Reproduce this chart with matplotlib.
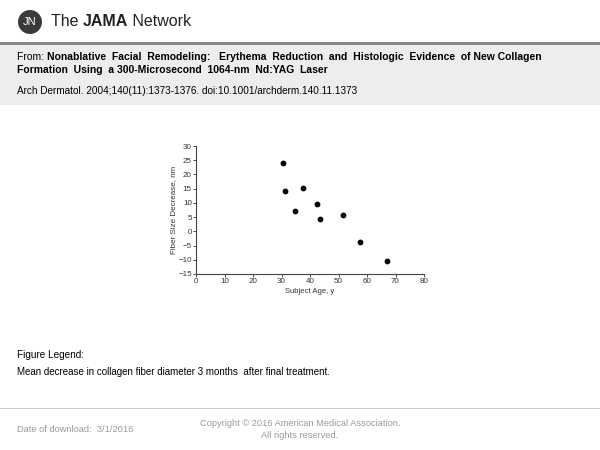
import matplotlib.pyplot as plt
from matplotlib.patches import Ellipse, Rectangle

plt.rcParams["font.family"] = ["Liberation Sans Narrow", "Liberation Sans", "DejaVu Sans"]

# データ
age = [30.5, 31.4, 34.6, 37.4, 42.6, 43.6, 51.6, 57.5, 66.9]
decrease = [24.0, 14.2, 7.3, 15.3, 9.7, 4.3, 5.8, -3.8, -10.4]
xticks = [0, 10, 20, 30, 40, 50, 60, 70, 80]
yticks = [-15, -10, -5, 0, 5, 10, 15, 20, 25, 30]

fig = plt.figure(figsize=(6, 4.5), dpi=100)
W, H = 600, 450
hdr = ["Liberation Sans", "DejaVu Sans"]
renderer = fig.canvas.get_renderer()

def fy(py):
    return 1 - py / H

# 複数のテキストを横に並べる
def rowtext(x, y, parts, **kw):
    for s, weight in parts:
        t = fig.text(x / W, fy(y), s, va="center", fontweight=weight, family=hdr, **kw)
        x += t.get_window_extent(renderer).width

# ヘッダー
fig.patches.append(Rectangle((0, fy(105)), 1, fy(43) - fy(105), transform=fig.transFigure,
                             facecolor="#ededed", edgecolor="none"))
fig.patches.append(Rectangle((0, fy(45)), 1, 3 / H, transform=fig.transFigure,
                             facecolor="#8a8a8a", edgecolor="none"))
fig.patches.append(Ellipse((30 / W, fy(22)), 24 / W, 24 / H, transform=fig.transFigure,
                           facecolor="#3a3a3a", edgecolor="none"))
fig.text(30 / W, fy(22), "JN", color="white", fontsize=8, ha="center", va="center", family=hdr)
rowtext(51, 21, [("The ", "normal"), ("JAMA", "bold"), (" Network", "normal")],
        fontsize=11.5, color="#222222")

rowtext(17, 57, [("From: ", "normal"),
                 ("Nonablative  Facial  Remodeling:   Erythema  Reduction  and  Histologic  Evidence  of New Collagen", "bold")],
        fontsize=7.5)
rowtext(17, 70, [("Formation  Using  a 300-Microsecond  1064-nm  Nd:YAG  Laser", "bold")], fontsize=7.5)
rowtext(17, 91, [("Arch Dermatol. 2004;140(11):1373-1376. doi:10.1001/archderm.140.11.1373", "normal")],
        fontsize=7.2)

# 散布図
ax = fig.add_axes([196 / W, fy(274), (424 - 196) / W, (274 - 146) / H])
ax.scatter(age, decrease, s=10, color="black", zorder=3)
ax.set_xlim(0, 80)
ax.set_ylim(-15, 30)
ax.set_xticks(xticks)
ax.set_yticks(yticks)
ax.spines["top"].set_visible(False)
ax.spines["right"].set_visible(False)
ax.spines["left"].set_color("#444444")
ax.spines["bottom"].set_color("#444444")
ax.tick_params(labelsize=5.8, length=2, width=0.6, pad=1, colors="#333333")
ax.set_xlabel("Subject Age, y", fontsize=5.5, labelpad=2, color="#333333")
ax.set_ylabel("Fiber Size Decrease, nm", fontsize=5.8, labelpad=1, color="#333333")

# 凡例・フッター
rowtext(17, 355, [("Figure Legend:", "normal")], fontsize=7.2)
rowtext(17, 372, [("Mean decrease in collagen fiber diameter 3 months  after final treatment.", "normal")],
        fontsize=7.0)
fig.patches.append(Rectangle((0, fy(409)), 1, 1 / H, transform=fig.transFigure,
                             facecolor="#cccccc", edgecolor="none"))
rowtext(17, 429, [("Date of download:  3/1/2016", "normal")], fontsize=6.7, color="#9a9a9a")
fig.text(300 / W, fy(424), "Copyright © 2016 American Medical Association.", fontsize=6.7, va="center",
         ha="center", color="#9a9a9a", family=hdr)
fig.text(300 / W, fy(436), "All rights reserved.", fontsize=6.7, va="center", ha="center",
         color="#9a9a9a", family=hdr)

fig.savefig("out.png", dpi=100)
